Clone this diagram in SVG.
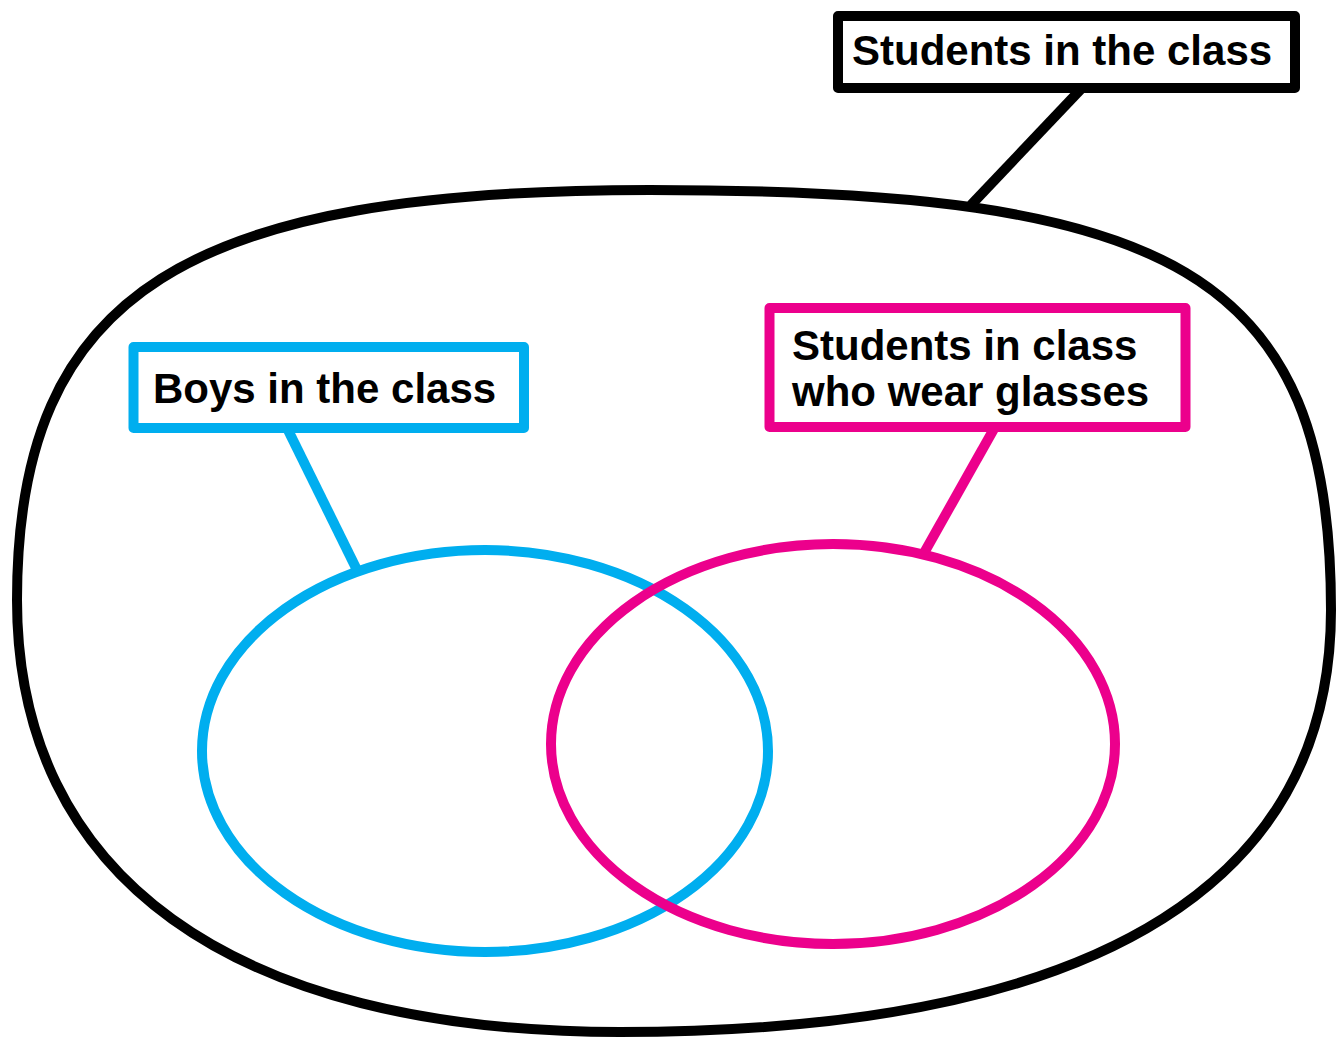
<svg xmlns="http://www.w3.org/2000/svg" width="1342" height="1038" viewBox="0 0 1342 1038">
  <style>
    .set { fill: none; stroke-width: 10; }
    .label-box { fill: #ffffff; stroke-width: 10; stroke-linejoin: round; }
    .label { font-family: "Liberation Sans", Arial, Helvetica, sans-serif; font-weight: bold; font-size: 42px; fill: #000000; }
    .lead { stroke-width: 10; stroke-linecap: butt; fill: none; }
    .black { stroke: #000000; }
    .blue { stroke: #00AEEF; }
    .pink { stroke: #EC008C; }
  </style>
  <rect x="0" y="0" width="1342" height="1038" fill="#ffffff"/>

  <!-- universal set: all students (rounded blob, one cubic per quadrant) -->
  <g id="students-set">
    <path class="set black" d="M 650,190
      C 1170,190 1331,270 1331,610
      C 1331,870 1120,1032 620,1032
      C 230,1032 17,875 17,600
      C 17,290 190,190 650,190 Z"/>
  </g>

  <!-- subset: boys -->
  <g id="boys-set">
    <ellipse class="set blue" cx="485" cy="751" rx="283" ry="201"/>
  </g>

  <!-- subset: students wearing glasses (drawn over the boys set) -->
  <g id="glasses-set">
    <ellipse class="set pink" cx="833" cy="744" rx="282" ry="200"/>
  </g>

  <!-- leader lines from labels to sets -->
  <g id="connectors">
    <line class="lead black" x1="1082" y1="88" x2="971" y2="205"/>
    <line class="lead blue" x1="287" y1="428" x2="357" y2="570"/>
    <line class="lead pink" x1="995" y1="427" x2="924" y2="553"/>
  </g>

  <g id="label-students">
    <rect class="label-box black" x="838" y="16" width="457" height="72"/>
    <text class="label" x="852" y="65">Students in the class</text>
  </g>

  <g id="label-boys">
    <rect class="label-box blue" x="133.5" y="347" width="390.5" height="81"/>
    <text class="label" x="153" y="403">Boys in the class</text>
  </g>

  <g id="label-glasses">
    <rect class="label-box pink" x="769.5" y="308" width="416" height="119"/>
    <text class="label" x="792" y="360">Students in class</text>
    <text class="label" x="792" y="406">who wear glasses</text>
  </g>
</svg>
